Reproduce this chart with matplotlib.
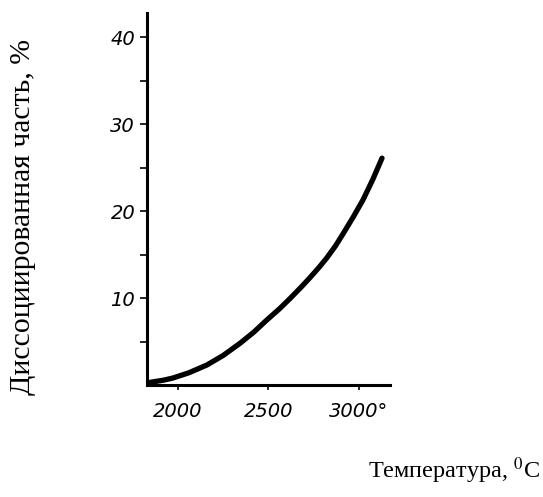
import numpy as np
import matplotlib.pyplot as plt

# curve: temperature (deg C) vs dissociated part (%)
temp = [1845, 1920, 1972, 2060, 2160, 2250, 2343, 2420, 2492, 2560, 2619,
        2680, 2729, 2780, 2823, 2870, 2912, 2970, 3022, 3075, 3127]
part = [0.3, 0.55, 0.8, 1.4, 2.3, 3.4, 4.8, 6.1, 7.5, 8.75, 9.95,
        11.25, 12.35, 13.55, 14.65, 16.0, 17.4, 19.4, 21.3, 23.6, 26.1]

x_ticks = [2000, 2500, 3000]
x_labels = ['2000', '2500', '3000°']
y_ticks = [10, 20, 30, 40]
y_minor = [5, 15, 25, 35]

fig = plt.figure(figsize=(5.43, 4.97), dpi=100, facecolor='w')
ax = fig.add_axes([0.2707, 0.2254, 0.4475, 0.7484])

ax.plot(temp, part, color='k', linewidth=3.8, solid_capstyle='round',
        solid_joinstyle='round')
ax.set_xlim(1829, 3171)
ax.set_ylim(0, 42.8)

for s in ['top', 'right']:
    ax.spines[s].set_visible(False)
for s in ['left', 'bottom']:
    ax.spines[s].set_linewidth(2.2)

ax.set_xticks(x_ticks)
ax.set_xticklabels(x_labels)
ax.set_yticks(y_ticks)
ax.set_yticks(y_minor, minor=True)
ax.tick_params(axis='y', which='both', direction='out', length=5, width=1.2, pad=3.5)
ax.tick_params(axis='x', direction='out', length=3.5, width=1.2, pad=9)
for lab in ax.get_xticklabels() + ax.get_yticklabels():
    lab.set_fontstyle('italic')
    lab.set_fontsize(14)
    lab.set_family('DejaVu Sans')

# axis titles in a serif face, placed like the original
fig.text(0.042, 0.563, 'Диссоциированная часть, %', rotation=90,
         ha='center', va='center', fontsize=21.4, family='Liberation Serif')
fig.text(0.994, 0.038, 'Температура, $^{0}$C', ha='right', va='baseline',
         fontsize=17.5, family='Liberation Serif', math_fontfamily='stix')

fig.savefig('out.png', dpi=100)
